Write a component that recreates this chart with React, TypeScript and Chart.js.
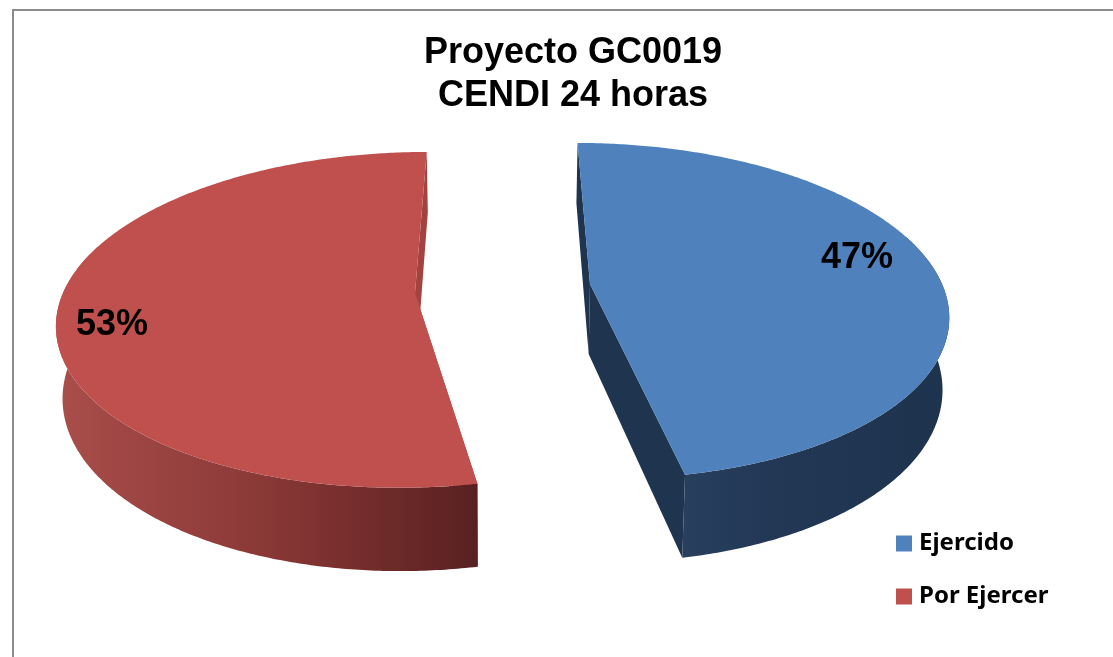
import React, { useEffect, useRef } from "react";
import { Chart, registerables } from "chart.js";

Chart.register(...registerables);

const categories = ["Ejercido", "Por Ejercer"];
const values = [47, 53];
const faceColors = ["#4F81BD", "#C0504D"];
const titleLines = ["Proyecto GC0019", "CENDI 24 horas"];

const wallColors = ["#1F344F", "#A4423F"];
const rimStops: [number, string][][] = [
  [[0, "#283F5E"], [0.3, "#223856"], [1, "#1E334D"]],
  [[0, "#A84D4A"], [0.45, "#8C3A38"], [0.7, "#762E2D"], [1, "#582120"]],
];
const apexes = [{ x: 590, y: 284 }, { x: 415, y: 293 }];
const labelSpots = [{ x: 857, y: 258 }, { x: 112, y: 325 }];

const VX = 500;
const RX = 352;
const RY = 163.6;
const PERSP = 0.16;
const DEPTH = 70;
const SHRINK = 0.985;

function project(slice: number, angle: number, r: number, lower: boolean) {
  const X = r * Math.cos(angle);
  const Y = r * Math.sin(angle);
  const f = 1 / (1 - PERSP * Y);
  const a = apexes[slice];
  let x = VX + (a.x - VX + RX * X) * f;
  let y = a.y + RY * Y * f;
  if (lower) {
    x = VX + (x - VX) * SHRINK;
    y += DEPTH * f;
  }
  return { x, y };
}

function polygon(ctx: CanvasRenderingContext2D, pts: { x: number; y: number }[]) {
  ctx.beginPath();
  pts.forEach((p, i) => (i ? ctx.lineTo(p.x, p.y) : ctx.moveTo(p.x, p.y)));
  ctx.closePath();
}

const pie3d = {
  id: "pie3d",
  beforeDraw(chart: any) {
    const ctx = chart.ctx;
    ctx.save();
    ctx.fillStyle = "#FFFFFF";
    ctx.fillRect(0, 0, chart.width, chart.height);
    ctx.strokeStyle = "#8C8C8C";
    ctx.lineWidth = 2;
    ctx.strokeRect(13, 10, chart.width + 20, chart.height + 20);
    ctx.restore();
  },
  afterLayout(chart: any) {
    const t = chart.titleBlock;
    const w = t.right - t.left;
    t.left = 573 - w / 2;
    t.right = 573 + w / 2;
    t.top = 32;
    t.bottom = t.top + t.height;
    const l = chart.legend;
    const lw = l.right - l.left;
    const lh = l.bottom - l.top;
    l.left = 872;
    l.right = l.left + lw;
    l.top = 502.5;
    l.bottom = l.top + lh;
  },
  beforeDatasetDraw(chart: any, args: any) {
    const ctx = chart.ctx;
    const arcs = chart.getDatasetMeta(args.index).data;
    ctx.save();
    arcs.forEach((arc: any, i: number) => {
      const start = arc.startAngle;
      const end = arc.endAngle;
      const steps = Math.max(2, Math.ceil((end - start) / 0.01));
      const angles: number[] = [];
      for (let s = 0; s <= steps; s++) angles.push(start + ((end - start) * s) / steps);
      const top = angles.map((t) => project(i, t, 1, false));
      const apexTop = project(i, 0, 0, false);
      const apexBottom = project(i, 0, 0, true);

      ctx.fillStyle = wallColors[i];
      polygon(ctx, [apexTop, top[0], project(i, start, 1, true), apexBottom]);
      ctx.fill();
      polygon(ctx, [apexTop, top[steps], project(i, end, 1, true), apexBottom]);
      ctx.fill();

      const front = angles.filter((t) => Math.sin(t) > -0.3);
      const frontTop = front.map((t) => project(i, t, 1, false));
      const frontBottom = front.map((t) => project(i, t, 1, true));
      const xs = frontBottom.map((p) => p.x);
      const grad = ctx.createLinearGradient(Math.min(...xs), 0, Math.max(...xs), 0);
      rimStops[i].forEach(([o, c]) => grad.addColorStop(o, c));
      ctx.fillStyle = grad;
      polygon(ctx, frontTop.concat(frontBottom.slice().reverse()));
      ctx.fill();

      ctx.fillStyle = faceColors[i];
      polygon(ctx, [apexTop, ...top]);
      ctx.fill();
    });

    const total = values.reduce((a, b) => a + b, 0);
    ctx.fillStyle = "#000000";
    ctx.font = 'bold 36px "Liberation Sans"';
    ctx.textAlign = "center";
    ctx.textBaseline = "middle";
    values.forEach((v, i) => {
      ctx.fillText(Math.round((v / total) * 100) + "%", labelSpots[i].x, labelSpots[i].y);
    });
    ctx.restore();
    return false;
  },
};

export default function App() {
  const ref = useRef<HTMLCanvasElement>(null);
  useEffect(() => {
    document.body.style.margin = "0";
    const chart = new Chart(ref.current as HTMLCanvasElement, {
      type: "pie",
      data: {
        labels: categories,
        datasets: [
          {
            data: values,
            backgroundColor: faceColors,
            borderColor: faceColors,
            borderWidth: 10,
          },
        ],
      },
      options: {
        responsive: false,
        animation: false,
        plugins: {
          title: {
            display: true,
            text: titleLines,
            color: "#000000",
            font: { family: '"Liberation Sans"', size: 36, weight: "bold", lineHeight: 1.194 },
            padding: 0,
          },
          legend: {
            position: "right",
            align: "start",
            labels: {
              color: "#000000",
              boxWidth: 6,
              boxHeight: 6,
              padding: 29,
              font: { family: '"Noto Sans"', size: 24, weight: "bold" },
            },
          },
          tooltip: { enabled: false },
        },
      },
      plugins: [pie3d],
    } as any);
    return () => chart.destroy();
  }, []);
  return <canvas ref={ref} width={1113} height={657} style={{ display: "block" }} />;
}
